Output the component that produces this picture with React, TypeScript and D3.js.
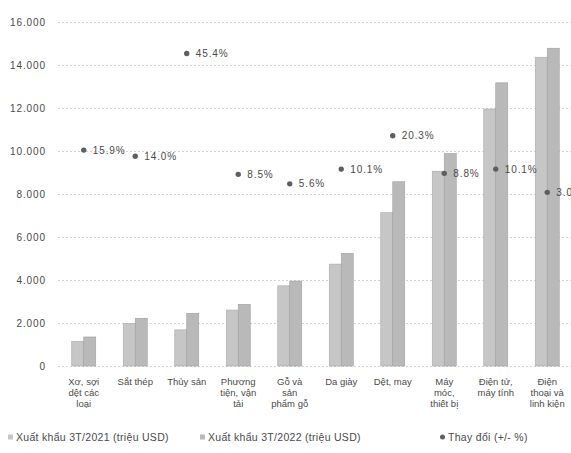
import { useEffect, useRef } from 'react';
import * as d3 from 'd3';

const categories = [
  ['Xơ, sợi', 'dệt các', 'loại'],
  ['Sắt thép'],
  ['Thủy sản'],
  ['Phương', 'tiện, vận', 'tải'],
  ['Gỗ và', 'sản', 'phẩm gỗ'],
  ['Da giày'],
  ['Dệt, may'],
  ['Máy', 'móc,', 'thiết bị'],
  ['Điện tử,', 'máy tính'],
  ['Điện', 'thoại và', 'linh kiện'],
];
const export2021 = [1150, 1980, 1680, 2600, 3730, 4740, 7130, 9060, 11950, 14360];
const export2022 = [1350, 2220, 2450, 2870, 3950, 5240, 8570, 9880, 13170, 14780];
const changePct = [15.9, 14.0, 45.4, 8.5, 5.6, 10.1, 20.3, 8.8, 10.1, 3.0];
const yTicks = [0, 2000, 4000, 6000, 8000, 10000, 12000, 14000, 16000];
const legendLabels = ['Xuất khẩu  3T/2021 (triệu USD)', 'Xuất khẩu 3T/2022 (triệu USD)', 'Thay đổi (+/- %)'];

export default function App() {
  const svgRef = useRef<SVGSVGElement>(null);

  useEffect(() => {
    if (!svgRef.current) return;
    document.body.style.margin = '0';
    const svg = d3.select(svgRef.current);
    svg.selectAll('*').remove();

    const font = '"Liberation Sans", Arial, sans-serif';
    const x0 = 58, x1 = 573, yTop = 22, yBottom = 366;

    const x = d3.scaleBand<number>()
      .domain(d3.range(categories.length))
      .range([x0, x1]);
    const inner = d3.scaleBand<string>()
      .domain(['a', 'b'])
      .range([0, 24]);
    const y = d3.scaleLinear().domain([0, 16000]).range([yBottom, yTop]);
    const y2 = d3.scaleLinear().domain([-50, 55]).range([yBottom, yTop]);

    const g = svg.append('g');

    // gridlines
    g.selectAll('line.grid')
      .data(yTicks)
      .join('line')
      .attr('x1', x0)
      .attr('x2', 571)
      .attr('y1', d => y(d) + 0.5)
      .attr('y2', d => y(d) + 0.5)
      .attr('stroke', '#d2d2d2')
      .attr('stroke-dasharray', '2,2');

    // y labels
    const fmt = (d: number) => (d === 0 ? '0' : d3.format(',')(d).replace(/,/g, '.'));
    g.selectAll('text.ytick')
      .data(yTicks)
      .join('text')
      .attr('x', 46)
      .attr('y', d => y(d))
      .attr('dy', '0.35em')
      .attr('text-anchor', 'end')
      .attr('font-family', font)
      .attr('font-size', 10)
      .attr('letter-spacing', 0.9)
      .attr('fill', '#4a4a4a')
      .text(fmt);

    // bars
    const groups = g.selectAll('g.cat')
      .data(categories.map((_, i) => i))
      .join('g')
      .attr('transform', i => `translate(${x(i)! + x.bandwidth() / 2 - 12},0)`);

    groups.append('rect')
      .attr('x', inner('a')!)
      .attr('width', inner.bandwidth())
      .attr('y', i => y(export2021[i]))
      .attr('height', i => yBottom - y(export2021[i]))
      .attr('fill', '#c6c6c6')
      .attr('stroke', '#a8a8a8')
      .attr('stroke-width', 0.6);

    groups.append('rect')
      .attr('x', inner('b')!)
      .attr('width', inner.bandwidth())
      .attr('y', i => y(export2022[i]))
      .attr('height', i => yBottom - y(export2022[i]))
      .attr('fill', '#b9b9b9')
      .attr('stroke', '#9e9e9e')
      .attr('stroke-width', 0.6);

    // change markers
    const pts = g.selectAll('g.pt')
      .data(changePct.map((v, i) => ({ v, i })))
      .join('g')
      .attr('transform', d => `translate(${x(d.i)! + x.bandwidth() / 2},${y2(d.v)})`);
    pts.append('circle')
      .attr('r', 2.7)
      .attr('fill', '#5e5e5e');
    pts.append('text')
      .attr('x', 9)
      .attr('dy', '0.35em')
      .attr('font-family', font)
      .attr('font-size', 10)
      .attr('letter-spacing', 0.9)
      .attr('fill', '#4a4a4a')
      .text(d => `${d.v.toFixed(1)}%`);

    // x labels
    const xl = g.selectAll('text.xl')
      .data(categories.map((c, i) => ({ c, i })))
      .join('text')
      .attr('text-anchor', 'middle')
      .attr('font-family', font)
      .attr('font-size', 9.5)
      .attr('fill', '#4a4a4a');
    xl.selectAll('tspan')
      .data(d => d.c.map(line => ({ line, i: d.i })))
      .join('tspan')
      .attr('x', d => x(d.i)! + x.bandwidth() / 2)
      .attr('y', (_, j) => 385 + j * 11)
      .text(d => d.line);

    // legend
    const legX = [8, 200, 440];
    const leg = g.selectAll('g.leg')
      .data(legendLabels.map((t, i) => ({ t, i })))
      .join('g')
      .attr('transform', d => `translate(${legX[d.i]},437)`);
    leg.filter(d => d.i < 2)
      .append('rect')
      .attr('x', 0)
      .attr('y', -2.5)
      .attr('width', 5)
      .attr('height', 5)
      .attr('fill', d => (d.i === 0 ? '#c6c6c6' : '#b9b9b9'));
    leg.filter(d => d.i === 2)
      .append('circle')
      .attr('cx', 2.5)
      .attr('r', 2.5)
      .attr('fill', '#5e5e5e');
    leg.append('text')
      .attr('x', 8)
      .attr('dy', '0.35em')
      .attr('font-family', font)
      .attr('font-size', 10.5)
      .attr('letter-spacing', 0.3)
      .attr('fill', '#4a4a4a')
      .text(d => d.t);
  }, []);

  return <svg ref={svgRef} width={571} height={453} style={{ display: 'block', background: '#fff' }} />;
}
